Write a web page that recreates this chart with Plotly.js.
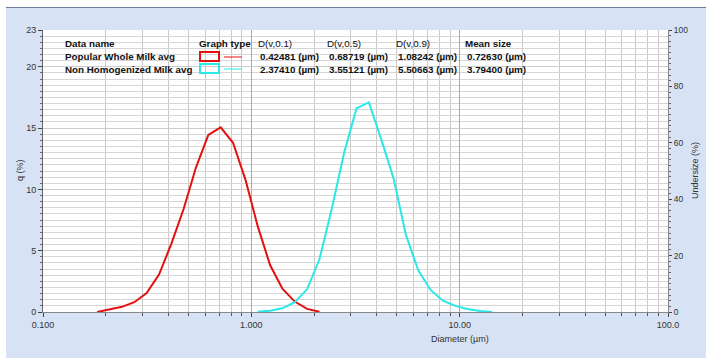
<!DOCTYPE html>
<html>
<head>
<meta charset="utf-8">
<script src="https://cdn.plot.ly/plotly-3.0.1.min.js"></script>
<style>
  html, body { margin:0; padding:0; background:#ffffff; width:706px; height:358px; overflow:hidden; }
  #wrap { position:absolute; left:6px; top:7px; width:700px; height:350px; background:#d7e3f5; border-top:1px solid #6c7c9c; }
  #chart { width:700px; height:350px; }
</style>
</head>
<body>
<div id="wrap"><div id="chart"></div></div>
<script>
// ---- data ----
const redName = "Popular Whole Milk avg";
const cyanName = "Non Homogenized Milk avg";
const redDiam = [0.182,0.2088,0.2394,0.2744,0.3144,0.3605,0.4129,0.4732,0.5426,0.6218,0.7128,0.8168,0.9369,1.073,1.230,1.410,1.616,1.851,2.123];
const redQ    = [0.0,0.2,0.42,0.8,1.55,3.05,5.55,8.4,11.8,14.45,15.06,13.8,10.8,7.0,3.83,1.9,0.85,0.25,0.02];
const cyanDiam = [1.073,1.230,1.410,1.616,1.851,2.123,2.432,2.790,3.196,3.665,4.199,4.816,5.517,6.328,7.251,8.303,9.526,10.91,12.52,14.34];
const cyanQ    = [0.02,0.1,0.3,0.8,1.85,4.3,8.4,13.0,16.6,17.1,14.1,10.9,6.3,3.4,1.8,0.92,0.5,0.25,0.08,0.0];
const xTickVals = [0.1,1,10,100];
const xTickText = ["0.100","1.000","10.00","100.0"];
const yTickVals = [0,5,10,15,20,23];
const y2TickVals = [0,20,40,60,80,100];
const tableHeaders = ["Data name","Graph type","D(v,0.1)","D(v,0.5)","D(v,0.9)","Mean size"];
const redStats  = ["0.42481 (µm)","0.68719 (µm)","1.08242 (µm)","0.72630 (µm)"];
const cyanStats = ["2.37410 (µm)","3.55121 (µm)","5.50663 (µm)","3.79400 (µm)"];

const RED = "rgb(228,16,16)";
const CYAN = "rgb(40,232,232)";
const FONT = "Liberation Sans, Arial, sans-serif";

// ---- geometry helpers (plot area in px of reference: x 43..668, y 30..312) ----
const PX0 = 43, PW = 625, PY1 = 312, PH = 282;
const px = x => (x - PX0) / PW;
const py = y => (PY1 - y) / PH;

const traces = [
  {x: redDiam, y: redQ, type: "scatter", mode: "lines", line: {color: RED, width: 2}, name: redName, showlegend: false, hoverinfo: "skip"},
  {x: cyanDiam, y: cyanQ, type: "scatter", mode: "lines", line: {color: CYAN, width: 2}, name: cyanName, showlegend: false, hoverinfo: "skip"},
  {x: [], y: [], type: "scatter", mode: "lines", yaxis: "y2", showlegend: false, hoverinfo: "skip"}
];

const tfont = {family: FONT, size: 9.8, color: "#111"};
const bfont = {family: FONT, size: 9.8, color: "#111", weight: "bold"};
const afont = {family: FONT, size: 9, color: "#333"};
function ann(text, x, y, anchor, font, angle) {
  const a = {text: text, xref: "paper", yref: "paper", x: px(x), y: py(y), xanchor: anchor, yanchor: "middle", showarrow: false, font: font, borderpad: 0};
  if (angle !== undefined) a.textangle = angle;
  return a;
}
const hdrY = 44, r1Y = 57, r2Y = 69;
const annotations = [
  ann(tableHeaders[0], 64, hdrY, "left", bfont),
  ann(tableHeaders[1], 198, hdrY, "left", bfont),
  ann(tableHeaders[2], 257, hdrY, "left", tfont),
  ann(tableHeaders[3], 326, hdrY, "left", tfont),
  ann(tableHeaders[4], 395, hdrY, "left", tfont),
  ann(tableHeaders[5], 464, hdrY, "left", bfont),
  ann(redName, 64, r1Y, "left", bfont),
  ann(cyanName, 64, r2Y, "left", bfont),
  ann(redStats[0], 320, r1Y, "right", bfont),
  ann(redStats[1], 389, r1Y, "right", bfont),
  ann(redStats[2], 458, r1Y, "right", bfont),
  ann(redStats[3], 527, r1Y, "right", bfont),
  ann(cyanStats[0], 320, r2Y, "right", bfont),
  ann(cyanStats[1], 389, r2Y, "right", bfont),
  ann(cyanStats[2], 458, r2Y, "right", bfont),
  ann(cyanStats[3], 527, r2Y, "right", bfont),
  ann("q (%)", 20, 170, "center", afont, -90),
  ann("Undersize (%)", 695, 170, "center", afont, -90),
  ann("Diameter (µm)", 460, 339, "center", afont)
];

const shapes = [
  {type: "rect", xref: "paper", yref: "paper", x0: px(200), x1: px(219), y0: py(61), y1: py(52), line: {color: RED, width: 2}},
  {type: "line", xref: "paper", yref: "paper", x0: px(224), x1: px(242), y0: py(57), y1: py(57), line: {color: RED, width: 1}},
  {type: "rect", xref: "paper", yref: "paper", x0: px(200), x1: px(219), y0: py(73), y1: py(64), line: {color: CYAN, width: 2}},
  {type: "line", xref: "paper", yref: "paper", x0: px(224), x1: px(242), y0: py(69), y1: py(69), line: {color: CYAN, width: 1}}
];

const layout = {
  width: 700, height: 350,
  margin: {l: 37, r: 38, t: 22, b: 46},
  paper_bgcolor: "#d7e3f5",
  plot_bgcolor: "#ffffff",
  font: {family: FONT, size: 9, color: "#333"},
  showlegend: false,
  xaxis: {
    type: "log", range: [-1, 2], tickmode: "array", tickvals: xTickVals, ticktext: xTickText,
    ticks: "outside", ticklen: 4, tickcolor: "#444", showline: true, linecolor: "#888", linewidth: 1,
    showgrid: true, gridcolor: "#a8a8a8", gridwidth: 1, zeroline: false,
    tickfont: {family: FONT, size: 9, color: "#333"},
    minor: {dtick: "D1", ticks: "outside", ticklen: 3, tickcolor: "#555", showgrid: true, gridcolor: "#c9c9c9", gridwidth: 1}
  },
  yaxis: {
    range: [0, 23], tickmode: "array", tickvals: yTickVals,
    ticks: "outside", ticklen: 4, tickcolor: "#444", showline: true, linecolor: "#666", linewidth: 1,
    showgrid: true, gridcolor: "#cccccc", zeroline: false,
    tickfont: {family: FONT, size: 9, color: "#333"},
    minor: {tickmode: "linear", tick0: 0, dtick: 0.5, ticks: "outside", ticklen: 2, tickcolor: "#666", showgrid: true, gridcolor: "#d6d6d6", gridwidth: 1}
  },
  yaxis2: {
    overlaying: "y", side: "right", range: [0, 100], tickmode: "array", tickvals: y2TickVals,
    ticks: "outside", ticklen: 3, tickcolor: "#444", showline: true, linecolor: "#888", linewidth: 1,
    showgrid: false, zeroline: false,
    tickfont: {family: FONT, size: 8.5, color: "#333"},
    minor: {tickmode: "linear", tick0: 0, dtick: 2, ticks: "outside", ticklen: 2, tickcolor: "#666", showgrid: false}
  },
  annotations: annotations,
  shapes: shapes
};

Plotly.newPlot("chart", traces, layout, {staticPlot: true, displayModeBar: false});
</script>
</body>
</html>
